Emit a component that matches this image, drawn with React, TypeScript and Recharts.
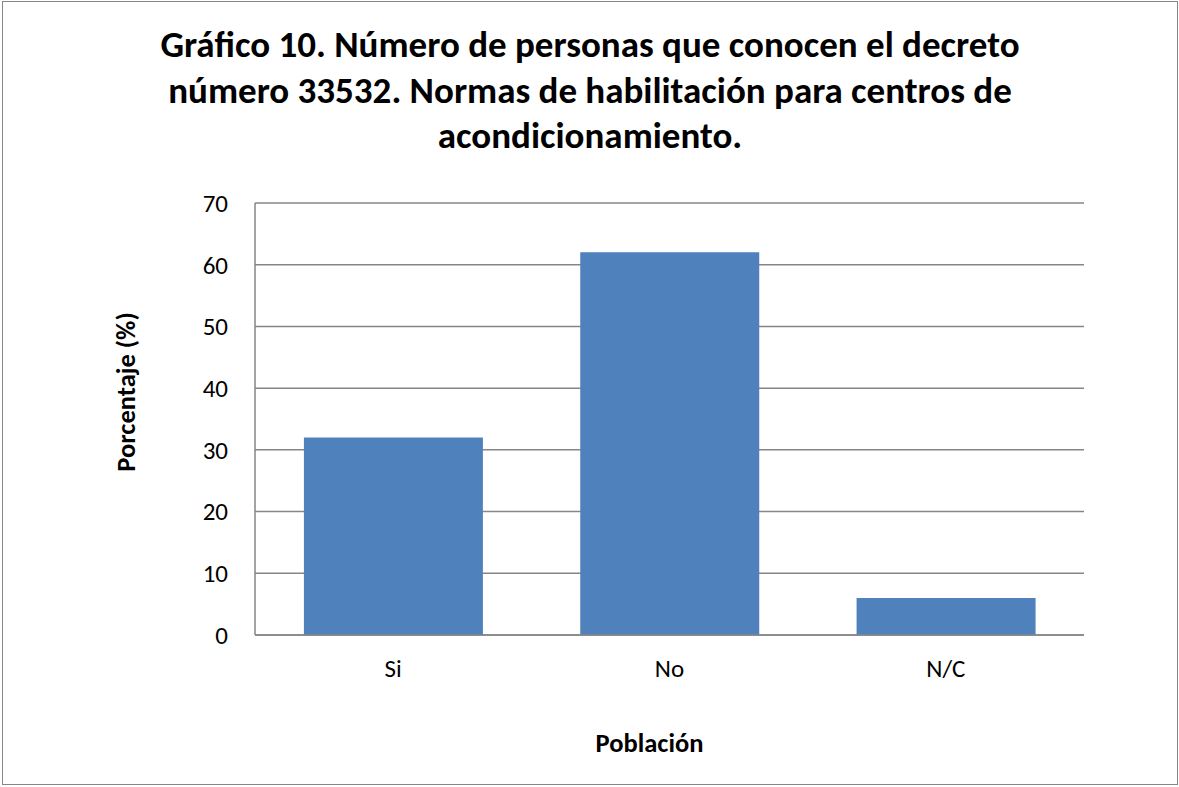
import { BarChart, Bar, XAxis, YAxis, CartesianGrid, Label } from "recharts";

const categories = ["Si", "No", "N/C"];
const percentages = [32, 62, 6];
const yTicks = [0, 10, 20, 30, 40, 50, 60, 70];
const titleLines = [
  "Gráfico 10. Número de personas que conocen el decreto",
  "número 33532. Normas de habilitación para centros de",
  "acondicionamiento.",
];

const data = categories.map((name, i) => ({ name, value: percentages[i] }));

const FONT = "Carlito, Calibri, Lato, sans-serif";
const GRID = "#868686";

export default function App() {
  return (
    <div style={{ position: "absolute", left: 0, top: 0, width: 1179, height: 787 }}>
      <BarChart
        width={1179}
        height={787}
        data={data}
        margin={{ top: 203, right: 95, bottom: 92, left: 0 }}
        barCategoryGap="17.7%"
        style={{ fontFamily: FONT }}
      >
        <rect x={2.5} y={1.5} width={1175} height={783} fill="none" stroke={GRID} strokeWidth={1} />
        {titleLines.map((line, i) => (
          <text
            key={i}
            x={590}
            y={57 + i * 45.5}
            textAnchor="middle"
            fontFamily={FONT}
            fontWeight="bold"
            fontSize={37}
            fill="#000"
          >
            {line}
          </text>
        ))}
        <CartesianGrid vertical={false} stroke={GRID} strokeWidth={1.5} />
        <XAxis
          dataKey="name"
          height={60}
          stroke={GRID}
          strokeWidth={1.5}
          tickLine={false}
          tickSize={0}
          tickMargin={24}
          tick={{ fill: "#000", fontSize: 25, fontFamily: FONT }}
        >
          <Label
            content={({ viewBox }: any) => (
              <text
                x={viewBox.x + viewBox.width / 2 - 20}
                y={752}
                textAnchor="middle"
                fontFamily={FONT}
                fontWeight="bold"
                fontSize={26.5}
                fill="#000"
              >
                Población
              </text>
            )}
          />
        </XAxis>
        <YAxis
          width={255}
          domain={[0, 70]}
          ticks={yTicks}
          interval={0}
          stroke={GRID}
          strokeWidth={1.5}
          tickLine={false}
          tickSize={0}
          tickMargin={27}
          tick={{ fill: "#000", fontSize: 25, fontFamily: FONT }}
        >
          <Label
            content={() => (
              <text
                x={135}
                y={392}
                textAnchor="middle"
                transform="rotate(-90 135 392)"
                fontFamily={FONT}
                fontWeight="bold"
                fontSize={26.5}
                fill="#000"
              >
                Porcentaje (%)
              </text>
            )}
          />
        </YAxis>
        <Bar dataKey="value" fill="#4F81BD" isAnimationActive={false} />
      </BarChart>
    </div>
  );
}
